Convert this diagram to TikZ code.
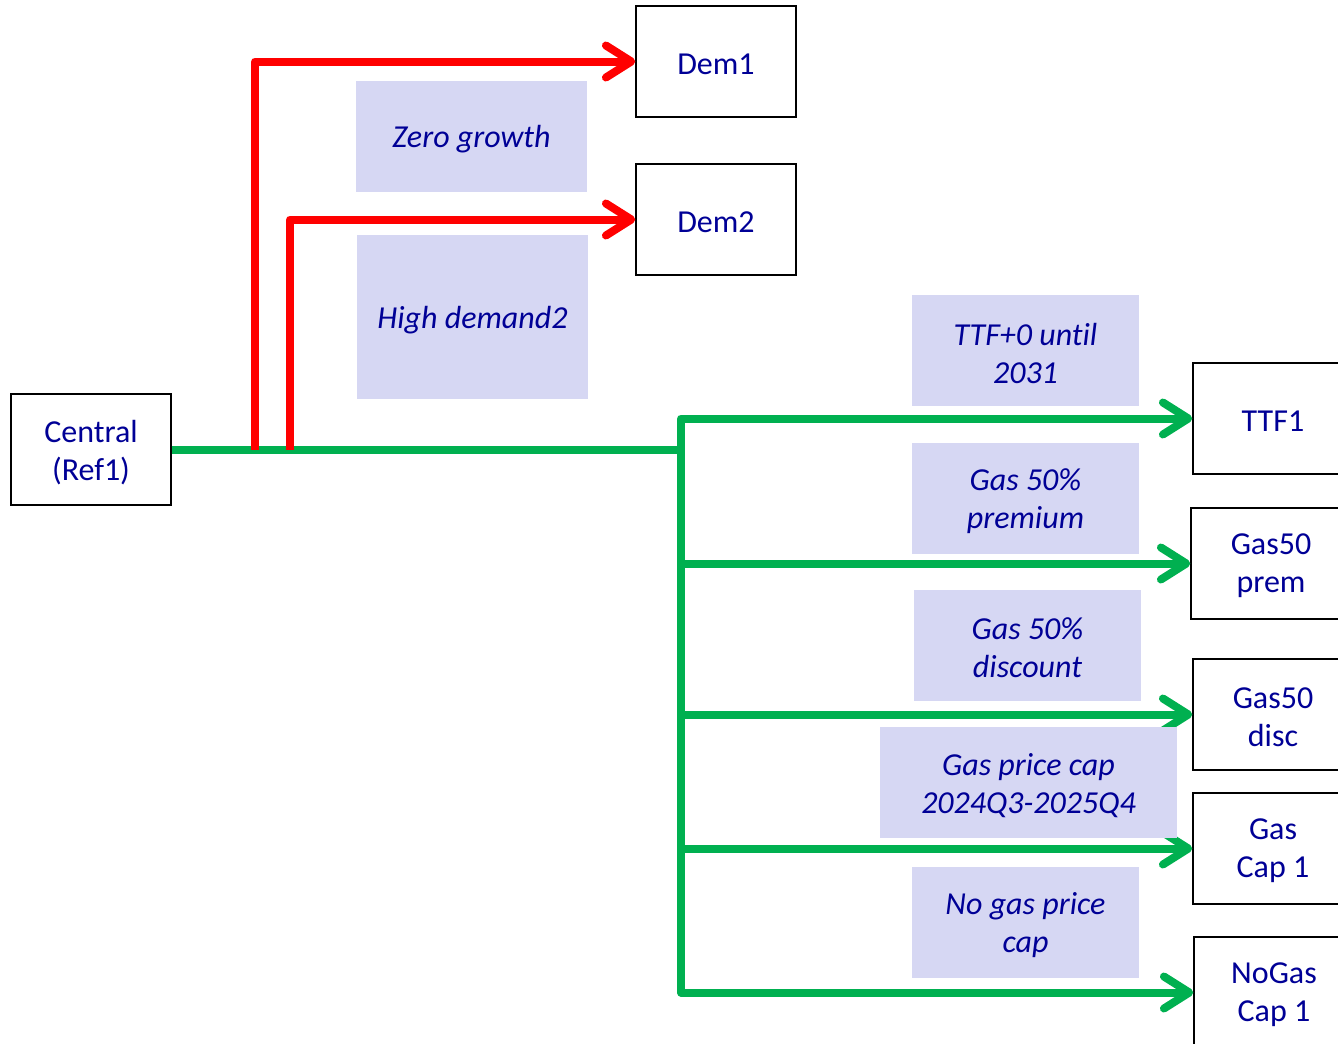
\documentclass[tikz,border=0pt]{standalone}
\usepackage{fontspec}
\setmainfont{Carlito}[Ligatures=NoCommon]
\usetikzlibrary{arrows.meta}
\definecolor{txtblue}{RGB}{0,0,150}
\definecolor{linkred}{RGB}{255,0,0}
\definecolor{linkgreen}{RGB}{0,176,80}
\definecolor{notefill}{RGB}{214,215,243}
% lower a line of text slightly without changing its box
\newcommand\dn[1]{\raisebox{-2pt}[\height][\depth]{#1}}
\tikzset{
  scenario/.style={draw=black, line width=1.1pt, fill=white, minimum width=120pt,
    minimum height=83pt, inner sep=0pt, align=center, text=txtblue,
    font=\fontsize{24}{28.5}\selectfont},
  note/.style={fill=notefill, inner sep=0pt, align=center, text=txtblue,
    font=\fontsize{24}{28.5}\selectfont\itshape},
  link/.style={line width=6pt, line join=round,
    -{Straight Barb[length=19pt, width=24pt, line cap=round, line join=round]}},
  redlink/.style={link, draw=linkred},
  greenlink/.style={link, draw=linkgreen},
}
\begin{document}
\begin{tikzpicture}[x=0.75pt, y=-0.75pt]
\useasboundingbox (0,0) rectangle (1338,1043);

% scenario boxes
\node[scenario] (central) at (91,449.5) {\dn{Central}\\\dn{(Ref1)}};
\node[scenario] (dem1) at (716,61.5) {\dn{Dem1}};
\node[scenario] (dem2) at (716,219.5) {\dn{Dem2}};
\node[scenario] (ttf) at (1273,418.5) {\dn{TTF1}};
\node[scenario] (gprem) at (1271,563.5) {\dn{Gas50}\\\dn{prem}};
\node[scenario] (gdisc) at (1273,714.5) {\dn{Gas50}\\\dn{disc}};
\node[scenario] (gcap) at (1273,848.5) {\dn{Gas}\\\dn{Cap 1}};
\node[scenario] (nocap) at (1274,992.5) {\dn{NoGas}\\\dn{Cap 1}};

% junctions on the main line
\coordinate (rj1) at (255,449.5);
\coordinate (rj2) at (290,449.5);
\coordinate (gj) at (681,449.5);

% main line and green branches
\draw[linkgreen, line width=6pt, line join=round] (central.east) -- (gj);
\draw[greenlink] (gj) |- (ttf.west);
\draw[greenlink] (gj) |- (gprem.west);
\draw[greenlink] (gj) |- (gdisc.west);
\draw[greenlink] (gj) |- (gcap.west);
\draw[greenlink] (gj) |- (nocap.west);

% red branches
\draw[redlink] (rj1) |- (dem1.west);
\draw[redlink] (rj2) |- (dem2.west);

% branch descriptions
\node[note, minimum width=173pt, minimum height=83pt] (lzero) at (471.5,136.5) {\dn{Zero growth}};
\node[note, minimum width=173pt, minimum height=123pt] (lhigh) at (472.5,317) {\dn{High demand2}};
\node[note, minimum width=170pt, minimum height=83pt] (lttf) at (1025.5,350.5) {\dn{TTF+0 until}\\\dn{2031}};
\node[note, minimum width=170pt, minimum height=83pt] (lprem) at (1025.5,498.5) {\dn{Gas 50\%}\\\dn{premium}};
\node[note, minimum width=170pt, minimum height=83pt] (ldisc) at (1027.5,645.5) {\dn{Gas 50\%}\\\dn{discount}};
\node[note, minimum width=223pt, minimum height=83pt] (lcap) at (1028.5,782.5) {\dn{Gas price cap}\\\dn{2024Q3-2025Q4}};
\node[note, minimum width=170pt, minimum height=83pt] (lno) at (1025.5,922.5) {\dn{No gas price}\\\dn{cap}};
\end{tikzpicture}
\end{document}
